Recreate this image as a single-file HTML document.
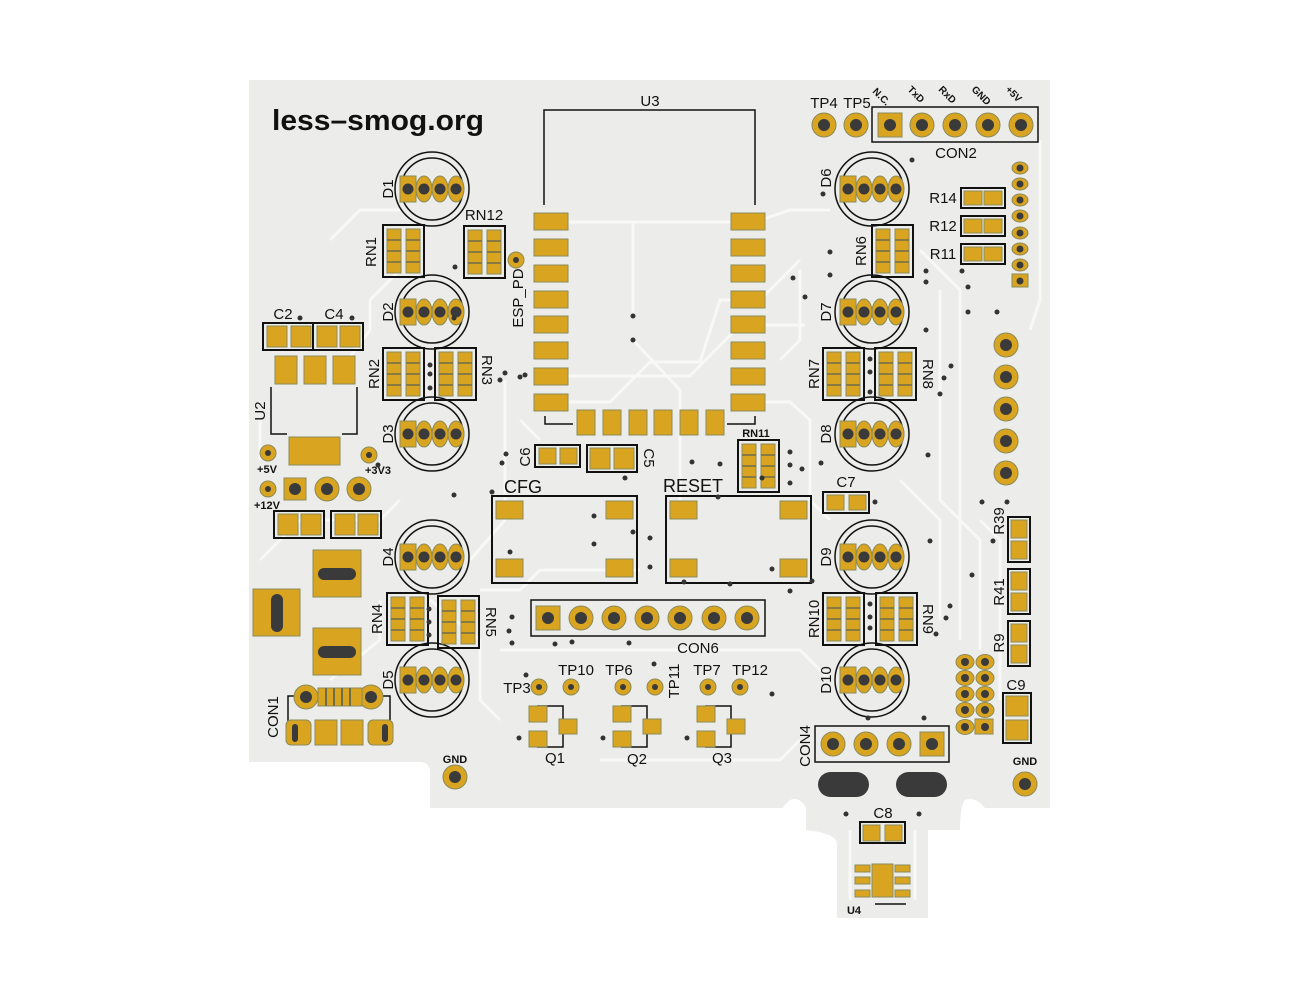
<!DOCTYPE html>
<html><head><meta charset="utf-8"><style>
html,body{margin:0;padding:0;background:#fff;}
svg{display:block}
text{font-family:"Liberation Sans",sans-serif;fill:#111;}
</style></head><body>
<svg width="1310" height="1004" viewBox="0 0 1310 1004" xmlns="http://www.w3.org/2000/svg">
<defs>
  <g id="led">
    <circle cx="0" cy="0" r="37" fill="none" stroke="#111" stroke-width="1.5"/>
    <circle cx="0" cy="0" r="31" fill="none" stroke="#111" stroke-width="1.5"/>
    <rect x="-32" y="-13" width="16" height="26" fill="#d9a521" stroke="#8a8a5a"/>
    <ellipse cx="-8" cy="0" rx="8" ry="13" fill="#d9a521" stroke="#8a8a5a"/>
    <ellipse cx="8" cy="0" rx="8" ry="13" fill="#d9a521" stroke="#8a8a5a"/>
    <ellipse cx="24" cy="0" rx="8" ry="13" fill="#d9a521" stroke="#8a8a5a"/>
    <circle cx="-24" cy="0" r="5.5" fill="#3a3a3a"/>
    <circle cx="-8" cy="0" r="5.5" fill="#3a3a3a"/>
    <circle cx="8" cy="0" r="5.5" fill="#3a3a3a"/>
    <circle cx="24" cy="0" r="5.5" fill="#3a3a3a"/>
  </g>
  <g id="rn">
    <rect x="0" y="0" width="41" height="52" fill="none" stroke="#111" stroke-width="2"/>
    <rect x="4" y="4" width="14" height="44" fill="#d9a521" stroke="#8a8a5a"/>
    <rect x="23" y="4" width="14" height="44" fill="#d9a521" stroke="#8a8a5a"/>
    <path d="M4 15h14M4 26h14M4 37h14M23 15h14M23 26h14M23 37h14" stroke="#6d6d4a" stroke-width="1.5"/>
  </g>
  <g id="r2">
    <rect x="0" y="0" width="44" height="20" fill="none" stroke="#111" stroke-width="2"/>
    <rect x="3" y="3" width="18" height="14" fill="#d9a521" stroke="#8a8a5a"/>
    <rect x="23" y="3" width="18" height="14" fill="#d9a521" stroke="#8a8a5a"/>
  </g>
  <g id="r2v">
    <rect x="0" y="0" width="22" height="45" fill="none" stroke="#111" stroke-width="2"/>
    <rect x="3" y="3" width="16" height="18" fill="#d9a521" stroke="#8a8a5a"/>
    <rect x="3" y="24" width="16" height="18" fill="#d9a521" stroke="#8a8a5a"/>
  </g>
  <g id="th">
    <circle r="12" fill="#d9a521" stroke="#8a8a5a"/>
    <circle r="6" fill="#3a3a3a"/>
  </g>
  <g id="ths">
    <rect x="-12" y="-12" width="24" height="24" fill="#d9a521" stroke="#8a8a5a"/>
    <circle r="6" fill="#3a3a3a"/>
  </g>
  <g id="tp">
    <circle r="8" fill="#d9a521" stroke="#8a8a5a"/>
    <circle r="3" fill="#3a3a3a"/>
  </g>
  <g id="q">
    <path d="M537 706 H563 V719 M563 734 V747 H537" fill="none" stroke="#111" stroke-width="1.5"/>
    <rect x="529" y="706" width="18" height="16" fill="#d9a521" stroke="#8a8a5a"/>
    <rect x="529" y="731" width="18" height="16" fill="#d9a521" stroke="#8a8a5a"/>
    <rect x="559" y="719" width="18" height="15" fill="#d9a521" stroke="#8a8a5a"/>
    <circle cx="519" cy="738" r="2.5" fill="#333"/>
  </g>
  <g id="hp">
    <ellipse rx="8" ry="6" fill="#d9a521" stroke="#8a8a5a"/>
    <circle r="3.5" fill="#3a3a3a"/>
  </g>
  <g id="hp2">
    <ellipse rx="9" ry="7.5" fill="#d9a521" stroke="#8a8a5a"/>
    <circle r="4" fill="#3a3a3a"/>
  </g>
</defs>

<!-- board -->
<path d="M249 80 H1050 V808 H985 Q975 796 965 800 Q960 806 960 830 H928 V918 H837 V843 Q835 833 806 830 V808 Q800 796 790 800 Q783 806 783 808 H430 V770 Q428 762 420 762 H249 Z" fill="#ececea"/>

<!-- traces (light) -->
<g fill="none" stroke="#f8f8f6" stroke-width="3">
  <path d="M568 222 H755 L790 210 H830"/>
  <path d="M633 222 V316"/>
  <path d="M568 376 H690 L740 325 H805"/>
  <path d="M568 402 H610 L650 362 H700 L720 300 H760 L800 260"/>
  <path d="M633 340 L680 390 V500"/>
  <path d="M765 402 H790 L810 420 V500 L830 520"/>
  <path d="M505 380 V520 L470 560"/>
  <path d="M340 370 L370 330 V300 L400 270"/>
  <path d="M330 240 L360 210 H400"/>
  <path d="M480 590 H520 L540 570 H640"/>
  <path d="M500 650 H800 L830 680"/>
  <path d="M430 600 L480 640 V700 L500 720"/>
  <path d="M800 270 V340 L780 360"/>
  <path d="M920 250 L960 290 V640"/>
  <path d="M940 290 V500 L980 540 V650"/>
  <path d="M1040 140 V300 L1030 330"/>
  <path d="M900 480 L940 520 V620"/>
  <path d="M600 760 H780 L800 740"/>
  <path d="M260 560 L300 520 H380 L400 500"/>
  <path d="M260 460 V420"/>
  <path d="M330 680 L380 640 V600"/>
  <path d="M520 420 L540 440"/>
  <path d="M850 830 V900"/>
  <path d="M915 830 V900"/>
  <path d="M980 520 L1000 540 V700"/>
</g>

<!-- title -->
<text x="272" y="130" font-size="29" font-weight="bold" textLength="212" lengthAdjust="spacingAndGlyphs">less–smog.org</text>

<!-- U3 -->
<path d="M544 205 V110 H755 V205" fill="none" stroke="#111" stroke-width="1.5"/>
<path d="M545 416 V424 H573 M727 424 H755 V416" fill="none" stroke="#111" stroke-width="1.5"/>
<text x="650" y="106" font-size="15" text-anchor="middle">U3</text>
<g fill="#d9a521" stroke="#8a8a5a">
  <rect x="534" y="213" width="34" height="17"/><rect x="534" y="239" width="34" height="17"/>
  <rect x="534" y="265" width="34" height="17"/><rect x="534" y="291" width="34" height="17"/>
  <rect x="534" y="316" width="34" height="17"/><rect x="534" y="342" width="34" height="17"/>
  <rect x="534" y="368" width="34" height="17"/><rect x="534" y="394" width="34" height="17"/>
  <rect x="731" y="213" width="34" height="17"/><rect x="731" y="239" width="34" height="17"/>
  <rect x="731" y="265" width="34" height="17"/><rect x="731" y="291" width="34" height="17"/>
  <rect x="731" y="316" width="34" height="17"/><rect x="731" y="342" width="34" height="17"/>
  <rect x="731" y="368" width="34" height="17"/><rect x="731" y="394" width="34" height="17"/>
  <rect x="577" y="410" width="18" height="25"/><rect x="603" y="410" width="18" height="25"/>
  <rect x="629" y="410" width="18" height="25"/><rect x="654" y="410" width="18" height="25"/>
  <rect x="680" y="410" width="18" height="25"/><rect x="706" y="410" width="18" height="25"/>
</g>

<!-- LEDs -->
<use href="#led" x="432" y="189"/><use href="#led" x="432" y="312"/><use href="#led" x="432" y="434"/>
<use href="#led" x="432" y="557"/><use href="#led" x="432" y="680"/>
<use href="#led" x="872" y="189"/><use href="#led" x="872" y="312"/><use href="#led" x="872" y="434"/>
<use href="#led" x="872" y="557"/><use href="#led" x="872" y="680"/>
<g font-size="15" text-anchor="middle">
  <text transform="translate(393,189) rotate(-90)">D1</text>
  <text transform="translate(393,312) rotate(-90)">D2</text>
  <text transform="translate(393,434) rotate(-90)">D3</text>
  <text transform="translate(393,557) rotate(-90)">D4</text>
  <text transform="translate(393,680) rotate(-90)">D5</text>
  <text transform="translate(831,178) rotate(-90)">D6</text>
  <text transform="translate(831,312) rotate(-90)">D7</text>
  <text transform="translate(831,434) rotate(-90)">D8</text>
  <text transform="translate(831,557) rotate(-90)">D9</text>
  <text transform="translate(831,680) rotate(-90)">D10</text>
</g>

<!-- RNs -->
<use href="#rn" x="383" y="225"/><use href="#rn" x="464" y="226"/>
<use href="#rn" x="383" y="348"/><use href="#rn" x="435" y="348"/>
<use href="#rn" x="387" y="593"/><use href="#rn" x="438" y="596"/>
<use href="#rn" x="872" y="225"/>
<use href="#rn" x="823" y="348"/><use href="#rn" x="875" y="348"/>
<use href="#rn" x="823" y="593"/><use href="#rn" x="876" y="593"/>
<use href="#rn" x="738" y="440"/>
<g font-size="15" text-anchor="middle">
  <text transform="translate(376,252) rotate(-90)">RN1</text>
  <text x="484" y="220">RN12</text>
  <text transform="translate(379,374) rotate(-90)">RN2</text>
  <text transform="translate(482,370) rotate(90)">RN3</text>
  <text transform="translate(382,619) rotate(-90)">RN4</text>
  <text transform="translate(486,622) rotate(90)">RN5</text>
  <text transform="translate(866,251) rotate(-90)">RN6</text>
  <text transform="translate(819,374) rotate(-90)">RN7</text>
  <text transform="translate(923,374) rotate(90)">RN8</text>
  <text transform="translate(923,619) rotate(90)">RN9</text>
  <text transform="translate(819,619) rotate(-90)">RN10</text>
  <text x="756" y="437" font-size="11" font-weight="bold">RN11</text>
</g>
<!-- ESP_PD -->
<use href="#tp" x="516" y="260"/>
<text transform="translate(523,298) rotate(-90)" font-size="15" text-anchor="middle">ESP_PD</text>

<!-- caps C6 C5 -->
<rect x="535" y="445" width="45" height="22" fill="none" stroke="#111" stroke-width="2"/>
<rect x="539" y="448" width="17" height="16" fill="#d9a521" stroke="#8a8a5a"/><rect x="560" y="448" width="17" height="16" fill="#d9a521" stroke="#8a8a5a"/>
<rect x="587" y="445" width="50" height="27" fill="none" stroke="#111" stroke-width="2"/>
<rect x="590" y="448" width="20" height="21" fill="#d9a521" stroke="#8a8a5a"/><rect x="614" y="448" width="20" height="21" fill="#d9a521" stroke="#8a8a5a"/>
<text transform="translate(530,457) rotate(-90)" font-size="15" text-anchor="middle">C6</text>
<text transform="translate(644,458) rotate(90)" font-size="15" text-anchor="middle">C5</text>

<!-- CFG / RESET -->
<rect x="492" y="496" width="145" height="87" fill="none" stroke="#111" stroke-width="2"/>
<rect x="666" y="496" width="145" height="87" fill="none" stroke="#111" stroke-width="2"/>
<g fill="#d9a521" stroke="#8a8a5a">
  <rect x="496" y="501" width="27" height="18"/><rect x="606" y="501" width="27" height="18"/>
  <rect x="496" y="559" width="27" height="18"/><rect x="606" y="559" width="27" height="18"/>
  <rect x="670" y="501" width="27" height="18"/><rect x="780" y="501" width="27" height="18"/>
  <rect x="670" y="559" width="27" height="18"/><rect x="780" y="559" width="27" height="18"/>
</g>
<text x="504" y="493" font-size="18">CFG</text>
<text x="663" y="492" font-size="18">RESET</text>

<!-- CON6 -->
<rect x="531" y="600" width="234" height="36" fill="none" stroke="#111" stroke-width="1.5"/>
<use href="#ths" x="548" y="618"/><use href="#th" x="581" y="618"/><use href="#th" x="614" y="618"/>
<use href="#th" x="647" y="618"/><use href="#th" x="680" y="618"/><use href="#th" x="714" y="618"/><use href="#th" x="747" y="618"/>
<text x="698" y="653" font-size="15" text-anchor="middle">CON6</text>

<!-- TPs -->
<use href="#tp" x="539" y="687"/><use href="#tp" x="571" y="687"/><use href="#tp" x="623" y="687"/>
<use href="#tp" x="655" y="687"/><use href="#tp" x="708" y="687"/><use href="#tp" x="740" y="687"/>
<g font-size="15" text-anchor="middle">
  <text x="517" y="693">TP3</text><text x="576" y="675">TP10</text><text x="619" y="675">TP6</text>
  <text transform="translate(679,681) rotate(-90)">TP11</text>
  <text x="707" y="675">TP7</text><text x="750" y="675">TP12</text>
</g>
<use href="#q"/><use href="#q" x="84"/><use href="#q" x="168"/>
<g font-size="15" text-anchor="middle">
  <text x="555" y="763">Q1</text><text x="637" y="764">Q2</text><text x="722" y="763">Q3</text>
</g>

<!-- left power section -->
<rect x="263" y="323" width="50" height="27" fill="none" stroke="#111" stroke-width="2"/>
<rect x="313" y="323" width="50" height="27" fill="none" stroke="#111" stroke-width="2"/>
<g fill="#d9a521" stroke="#8a8a5a">
  <rect x="267" y="326" width="20" height="21"/><rect x="291" y="326" width="20" height="21"/>
  <rect x="317" y="326" width="20" height="21"/><rect x="340" y="326" width="20" height="21"/>
  <rect x="275" y="356" width="22" height="28"/><rect x="304" y="356" width="22" height="28"/><rect x="333" y="356" width="22" height="28"/>
  <rect x="289" y="437" width="51" height="28"/>
</g>
<path d="M271 387 V434 H287 M342 434 H357 V387" fill="none" stroke="#111" stroke-width="1.5"/>
<text x="283" y="319" font-size="15" text-anchor="middle">C2</text>
<text x="334" y="319" font-size="15" text-anchor="middle">C4</text>
<text transform="translate(265,411) rotate(-90)" font-size="15" text-anchor="middle">U2</text>
<use href="#tp" x="268" y="453"/><use href="#tp" x="369" y="455"/><use href="#tp" x="268" y="489"/>
<g font-size="11" font-weight="bold" text-anchor="middle">
  <text x="267" y="473">+5V</text><text x="378" y="474">+3V3</text><text x="267" y="509">+12V</text>
</g>
<rect x="284" y="478" width="22" height="22" fill="#d9a521" stroke="#8a8a5a"/><circle cx="295" cy="489" r="6" fill="#3a3a3a"/>
<use href="#th" x="327" y="489"/><use href="#th" x="359" y="489"/>
<rect x="274" y="511" width="50" height="27" fill="none" stroke="#111" stroke-width="2"/>
<rect x="331" y="511" width="50" height="27" fill="none" stroke="#111" stroke-width="2"/>
<g fill="#d9a521" stroke="#8a8a5a">
  <rect x="278" y="514" width="20" height="21"/><rect x="301" y="514" width="20" height="21"/>
  <rect x="335" y="514" width="20" height="21"/><rect x="358" y="514" width="20" height="21"/>
  <rect x="313" y="550" width="48" height="47"/><rect x="253" y="589" width="47" height="47"/><rect x="313" y="628" width="48" height="47"/>
</g>
<rect x="318" y="568" width="38" height="12" rx="6" fill="#3a3a3a"/>
<rect x="271" y="594" width="12" height="38" rx="6" fill="#3a3a3a"/>
<rect x="318" y="646" width="38" height="12" rx="6" fill="#3a3a3a"/>
<!-- CON1 -->
<path d="M288 740 V696 H295 M377 696 H390 V740" fill="none" stroke="#111" stroke-width="1.5"/>
<use href="#th" x="306" y="697"/><use href="#th" x="371" y="697"/>
<rect x="318" y="688" width="44" height="18" fill="#d9a521" stroke="#8a8a5a"/>
<path d="M326 688v18M334 688v18M342 688v18M350 688v18" stroke="#6d6d4a" stroke-width="2"/>
<g fill="#d9a521" stroke="#8a8a5a">
  <rect x="286" y="720" width="25" height="25" rx="5"/><rect x="315" y="720" width="22" height="25"/>
  <rect x="341" y="720" width="22" height="25"/><rect x="368" y="720" width="25" height="25" rx="5"/>
</g>
<rect x="292" y="724" width="6" height="18" rx="3" fill="#3a3a3a"/><rect x="382" y="724" width="6" height="18" rx="3" fill="#3a3a3a"/>
<text transform="translate(278,717) rotate(-90)" font-size="15" text-anchor="middle">CON1</text>
<use href="#th" x="455" y="777" transform=""/>
<text x="455" y="763" font-size="11" font-weight="bold" text-anchor="middle">GND</text>

<!-- top right -->
<use href="#th" x="824" y="125"/><use href="#th" x="856" y="125"/>
<text x="824" y="108" font-size="15" text-anchor="middle">TP4</text>
<text x="857" y="108" font-size="15" text-anchor="middle">TP5</text>
<rect x="872" y="107" width="166" height="35" fill="none" stroke="#111" stroke-width="1.5"/>
<use href="#ths" x="890" y="125"/><use href="#th" x="922" y="125"/><use href="#th" x="955" y="125"/><use href="#th" x="988" y="125"/><use href="#th" x="1021" y="125"/>
<g font-size="10" font-weight="bold">
  <text transform="translate(872,92) rotate(45)">N.C.</text>
  <text transform="translate(907,90) rotate(45)">TxD</text>
  <text transform="translate(938,90) rotate(45)">RxD</text>
  <text transform="translate(971,90) rotate(45)">GND</text>
  <text transform="translate(1005,90) rotate(45)">+5V</text>
</g>
<text x="956" y="158" font-size="15" text-anchor="middle">CON2</text>
<use href="#r2" x="961" y="188"/><use href="#r2" x="961" y="216"/><use href="#r2" x="961" y="244"/>
<g font-size="15" text-anchor="middle">
  <text x="943" y="203">R14</text><text x="943" y="231">R12</text><text x="943" y="259">R11</text>
</g>
<use href="#hp" x="1020" y="168"/><use href="#hp" x="1020" y="184"/><use href="#hp" x="1020" y="200"/>
<use href="#hp" x="1020" y="216"/><use href="#hp" x="1020" y="233"/><use href="#hp" x="1020" y="249"/>
<use href="#hp" x="1020" y="265"/>
<rect x="1012" y="274" width="16" height="13" fill="#d9a521" stroke="#8a8a5a"/><circle cx="1020" cy="281" r="3.5" fill="#3a3a3a"/>
<use href="#th" x="1006" y="345"/><use href="#th" x="1006" y="377"/><use href="#th" x="1006" y="409"/>
<use href="#th" x="1006" y="441"/><use href="#th" x="1006" y="473"/>
<!-- C7 -->
<rect x="823" y="492" width="46" height="21" fill="none" stroke="#111" stroke-width="2"/>
<rect x="827" y="495" width="17" height="15" fill="#d9a521" stroke="#8a8a5a"/><rect x="849" y="495" width="17" height="15" fill="#d9a521" stroke="#8a8a5a"/>
<text x="846" y="487" font-size="15" text-anchor="middle">C7</text>
<!-- R39 R41 R9 -->
<use href="#r2v" x="1008" y="517"/><use href="#r2v" x="1008" y="569"/><use href="#r2v" x="1008" y="621"/>
<g font-size="15" text-anchor="middle">
  <text transform="translate(1004,521) rotate(-90)">R39</text>
  <text transform="translate(1004,592) rotate(-90)">R41</text>
  <text transform="translate(1004,643) rotate(-90)">R9</text>
</g>
<!-- 10-pin -->
<use href="#hp2" x="965" y="662"/><use href="#hp2" x="985" y="662"/>
<use href="#hp2" x="965" y="678"/><use href="#hp2" x="985" y="678"/>
<use href="#hp2" x="965" y="694"/><use href="#hp2" x="985" y="694"/>
<use href="#hp2" x="965" y="710"/><use href="#hp2" x="985" y="710"/>
<use href="#hp2" x="965" y="727"/>
<rect x="975" y="719" width="18" height="15" fill="#d9a521" stroke="#8a8a5a"/><circle cx="985" cy="727" r="4" fill="#3a3a3a"/>
<!-- C9 -->
<rect x="1003" y="693" width="28" height="50" fill="none" stroke="#111" stroke-width="2"/>
<rect x="1006" y="696" width="22" height="20" fill="#d9a521" stroke="#8a8a5a"/><rect x="1006" y="720" width="22" height="20" fill="#d9a521" stroke="#8a8a5a"/>
<text x="1016" y="690" font-size="15" text-anchor="middle">C9</text>
<!-- CON4 -->
<rect x="815" y="726" width="134" height="36" fill="none" stroke="#111" stroke-width="1.5"/>
<use href="#th" x="833" y="744"/><use href="#th" x="866" y="744"/><use href="#th" x="899" y="744"/><use href="#ths" x="932" y="744"/>
<text transform="translate(810,746) rotate(-90)" font-size="15" text-anchor="middle">CON4</text>
<rect x="818" y="772" width="51" height="25" rx="12.5" fill="#3a3a3a"/>
<rect x="896" y="772" width="51" height="25" rx="12.5" fill="#3a3a3a"/>
<use href="#th" x="1025" y="784"/>
<text x="1025" y="765" font-size="11" font-weight="bold" text-anchor="middle">GND</text>
<!-- C8 U4 -->
<rect x="860" y="822" width="45" height="21" fill="none" stroke="#111" stroke-width="2"/>
<rect x="863" y="825" width="17" height="16" fill="#d9a521" stroke="#8a8a5a"/><rect x="885" y="825" width="17" height="16" fill="#d9a521" stroke="#8a8a5a"/>
<text x="883" y="818" font-size="15" text-anchor="middle">C8</text>
<g fill="#d9a521" stroke="#8a8a5a">
  <rect x="872" y="864" width="21" height="33"/>
  <rect x="855" y="865" width="15" height="7"/><rect x="855" y="877" width="15" height="7"/><rect x="855" y="890" width="15" height="7"/>
  <rect x="895" y="865" width="15" height="7"/><rect x="895" y="877" width="15" height="7"/><rect x="895" y="890" width="15" height="7"/>
</g>
<path d="M875 904 H906" stroke="#111" stroke-width="1.5"/>
<text x="854" y="914" font-size="11" font-weight="bold" text-anchor="middle">U4</text>

<!-- vias -->
<g fill="#333">
  <circle cx="454" cy="318" r="2.5"/><circle cx="352" cy="318" r="2.5"/><circle cx="300" cy="318" r="2.5"/>
  <circle cx="430" cy="365" r="2.5"/><circle cx="430" cy="374" r="2.5"/><circle cx="430" cy="388" r="2.5"/>
  <circle cx="455" cy="267" r="2.5"/><circle cx="505" cy="373" r="2.5"/><circle cx="500" cy="380" r="2.5"/>
  <circle cx="520" cy="377" r="2.5"/><circle cx="506" cy="454" r="2.5"/><circle cx="502" cy="463" r="2.5"/>
  <circle cx="633" cy="316" r="2.5"/><circle cx="633" cy="340" r="2.5"/><circle cx="525" cy="375" r="2.5"/>
  <circle cx="793" cy="278" r="2.5"/><circle cx="805" cy="297" r="2.5"/><circle cx="762" cy="478" r="2.5"/>
  <circle cx="720" cy="464" r="2.5"/><circle cx="692" cy="462" r="2.5"/><circle cx="625" cy="478" r="2.5"/>
  <circle cx="790" cy="452" r="2.5"/><circle cx="790" cy="465" r="2.5"/><circle cx="802" cy="469" r="2.5"/>
  <circle cx="790" cy="483" r="2.5"/><circle cx="821" cy="463" r="2.5"/><circle cx="823" cy="194" r="2.5"/>
  <circle cx="912" cy="160" r="2.5"/><circle cx="830" cy="252" r="2.5"/><circle cx="830" cy="275" r="2.5"/>
  <circle cx="926" cy="271" r="2.5"/><circle cx="926" cy="282" r="2.5"/><circle cx="962" cy="271" r="2.5"/>
  <circle cx="968" cy="287" r="2.5"/><circle cx="968" cy="312" r="2.5"/><circle cx="997" cy="312" r="2.5"/>
  <circle cx="926" cy="330" r="2.5"/><circle cx="870" cy="359" r="2.5"/><circle cx="870" cy="372" r="2.5"/>
  <circle cx="870" cy="392" r="2.5"/><circle cx="951" cy="366" r="2.5"/><circle cx="944" cy="378" r="2.5"/>
  <circle cx="940" cy="394" r="2.5"/><circle cx="928" cy="455" r="2.5"/><circle cx="875" cy="502" r="2.5"/>
  <circle cx="982" cy="502" r="2.5"/><circle cx="1007" cy="502" r="2.5"/><circle cx="930" cy="541" r="2.5"/>
  <circle cx="993" cy="541" r="2.5"/><circle cx="972" cy="575" r="2.5"/><circle cx="950" cy="606" r="2.5"/>
  <circle cx="946" cy="618" r="2.5"/><circle cx="936" cy="634" r="2.5"/><circle cx="870" cy="604" r="2.5"/>
  <circle cx="870" cy="617" r="2.5"/><circle cx="870" cy="628" r="2.5"/><circle cx="868" cy="718" r="2.5"/>
  <circle cx="924" cy="718" r="2.5"/><circle cx="846" cy="814" r="2.5"/><circle cx="919" cy="814" r="2.5"/>
  <circle cx="429" cy="609" r="2.5"/><circle cx="429" cy="622" r="2.5"/><circle cx="429" cy="635" r="2.5"/>
  <circle cx="512" cy="617" r="2.5"/><circle cx="509" cy="631" r="2.5"/><circle cx="512" cy="643" r="2.5"/>
  <circle cx="555" cy="644" r="2.5"/><circle cx="572" cy="642" r="2.5"/><circle cx="629" cy="643" r="2.5"/>
  <circle cx="654" cy="664" r="2.5"/><circle cx="526" cy="675" r="2.5"/><circle cx="772" cy="694" r="2.5"/>
  <circle cx="594" cy="516" r="2.5"/><circle cx="594" cy="544" r="2.5"/><circle cx="510" cy="552" r="2.5"/>
  <circle cx="633" cy="532" r="2.5"/><circle cx="650" cy="538" r="2.5"/><circle cx="650" cy="567" r="2.5"/>
  <circle cx="772" cy="569" r="2.5"/><circle cx="684" cy="582" r="2.5"/><circle cx="730" cy="584" r="2.5"/>
  <circle cx="718" cy="497" r="2.5"/><circle cx="812" cy="581" r="2.5"/><circle cx="790" cy="591" r="2.5"/>
  <circle cx="454" cy="495" r="2.5"/><circle cx="492" cy="492" r="2.5"/><circle cx="378" cy="465" r="2.5"/>
</g>
</svg>
</body></html>
